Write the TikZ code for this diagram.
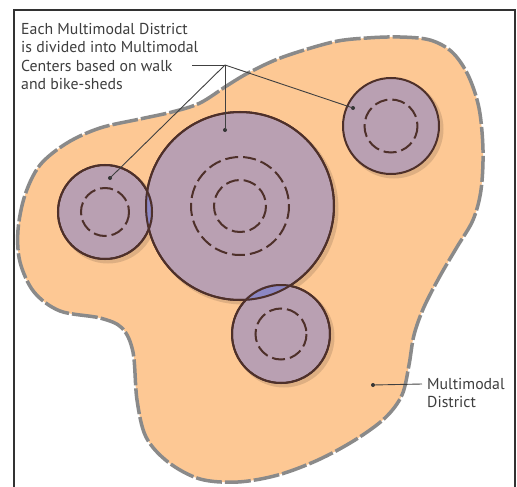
\documentclass[tikz,border=0pt]{standalone}
\usepackage{fontspec}
\setmainfont{PT Sans}
\definecolor{districtfill}{RGB}{253,200,148}
\definecolor{districtline}{RGB}{138,138,138}
\definecolor{centerfill}{RGB}{185,160,178}
\definecolor{centerline}{RGB}{78,48,42}
\definecolor{overlapfill}{RGB}{140,135,196}
\definecolor{textgray}{RGB}{62,62,62}
\definecolor{framegray}{RGB}{50,50,50}
\tikzset{
  districtstyle/.style={fill=districtfill, draw=districtline, line width=3.5pt, dash pattern=on 26pt off 3pt},
  centerdisk/.style={circle, fill=centerfill, draw=centerline, line width=2pt, inner sep=0pt},
  ringstyle/.style={draw=centerline, line width=2pt, dash pattern=on 13pt off 5pt},
  leader/.style={draw=black!75, line width=0.9pt},
  leaddot/.style={circle, fill=black!80, inner sep=0pt, minimum size=4pt},
  labeltext/.style={text=textgray, font=\fontsize{15.8}{18.5}\selectfont, align=left, inner sep=0pt},
}
\begin{document}
\begin{tikzpicture}[x=1pt,y=-1pt]
\useasboundingbox (0,0) rectangle (517,487);
\fill[white] (0,0) rectangle (517,487);
% frame
\draw[framegray, line width=2pt] (14,487) -- (14,10) -- (515,10) -- (515,487);
% district
\path[districtstyle] plot[smooth cycle, tension=0.55] coordinates {
 (200,103) (228,85) (250,72) (283,57) (333,42) (367,38) (400,37) (430,40) (452,52)
 (468,75) (479,108) (483,150) (481,190) (473,220) (457,247) (440,276) (424,307)
 (414,335) (409,365) (402,395) (385,418) (355,440) (318,460) (278,475) (238,482)
 (200,479) (168,462) (146,437) (137,400) (133,352) (122,328) (100,318) (60,311)
 (34,292) (20,262) (18,230) (25,195) (40,165) (67,143) (100,128) (140,119) (172,112)};
% shadows
\foreach \cx/\cy/\r in {105/212/47, 240/206/94, 281/334/49, 391/126/48}
  \fill[black, opacity=0.12] (\cx+3,\cy+3) circle (\r+1.5);
% centers
\node[centerdisk, minimum size=188pt] (big) at (240,206) {};
\node[centerdisk, minimum size=94pt] (left) at (105,212) {};
\node[centerdisk, minimum size=98pt] (bottom) at (281,334) {};
\node[centerdisk, minimum size=96pt] (topright) at (391,126) {};
% overlaps
\begin{scope}
  \clip (big.center) circle (95);
  \fill[overlapfill] (left.center) circle (48);
  \fill[overlapfill] (bottom.center) circle (50);
\end{scope}
\draw[centerline, line width=2pt] (big.center) circle (94);
\draw[centerline, line width=2pt] (left.center) circle (47);
\draw[centerline, line width=2pt] (bottom.center) circle (49);
% rings
\draw[ringstyle] (big.center) circle (49);
\draw[ringstyle] (big.center) circle (26);
\draw[ringstyle] (left.center) circle (24);
\draw[ringstyle] (bottom.center) circle (25.5);
\draw[ringstyle] (topright.center) circle (26.5);
% labels
\node[labeltext, anchor=north west] (title) at (21,23) {Each Multimodal District\\is divided into Multimodal\\Centers based on walk\\and bike-sheds};
\node[labeltext, anchor=north west] (district) at (427,378) {Multimodal\\District};
% leaders
\coordinate (hub) at (225,65);
\coordinate (leadstart) at (192,65);
\node[leaddot] (dleft) at (110,178) {};
\node[leaddot] (dbig) at (225,130) {};
\node[leaddot] (dright) at (353,108) {};
\node[leaddot] (ddist) at (373,385) {};
\coordinate (distend) at (422,384);
\draw[leader] (leadstart) -- (hub);
\draw[leader] (hub) -- (dleft.center);
\draw[leader] (hub) -- (dbig.center);
\draw[leader] (hub) -- (dright.center);
\draw[leader] (ddist.center) -- (distend);
\end{tikzpicture}
\end{document}
